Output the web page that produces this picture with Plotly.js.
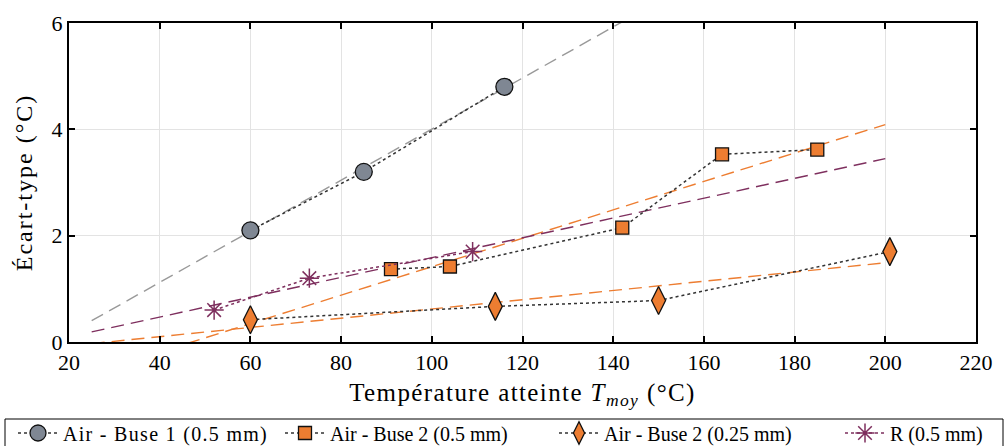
<!DOCTYPE html>
<html>
<head>
<meta charset="utf-8">
<script src="https://cdn.plot.ly/plotly-3.0.1.min.js"></script>
<style>
html,body{margin:0;padding:0;background:#fff;}
#chart{width:1005px;height:446px;}
.xtitle{letter-spacing:1.4px;}
.ytitle{letter-spacing:2px;}
.legendtext{letter-spacing:1.3px;}
</style>
</head>
<body>
<div id="chart"></div>
<script>
// Series data
const buse1X = [60, 85, 116];
const buse1Y = [2.1, 3.2, 4.8];
const buse2X = [91, 104, 142, 164, 185];
const buse2Y = [1.37, 1.42, 2.15, 3.53, 3.62];
const buse2smallX = [60, 114, 150, 201];
const buse2smallY = [0.42, 0.67, 0.78, 1.7];
const rX = [52, 73, 109];
const rY = [0.6, 1.2, 1.7];
// Linear-fit endpoints
const fitBuse1X = [25, 200];
const fitBuse1Y = [0.40, 8.81];
const fitBuse2X = [25, 200];
const fitBuse2Y = [-0.59, 4.09];
const fitBuse2smallX = [25, 200];
const fitBuse2smallY = [-0.03, 1.49];
const fitRX = [25, 200];
const fitRY = [0.19, 3.45];
// Labels
const seriesNames = ['Air - Buse 1 (0.5 mm)', 'Air - Buse 2 (0.5 mm)', 'Air - Buse 2 (0.25 mm)', 'R (0.5 mm)'];
const xTicks = [20, 40, 60, 80, 100, 120, 140, 160, 180, 200, 220];
const yTicks = [0, 2, 4, 6];

const GREY = '#7f8793', ORANGE = '#ed7d31', PURPLE = '#7e2f5e';
const dashStyle = '13px,7px';

function fit(x, y, color) {
  return {x: x, y: y, mode: 'lines', type: 'scatter', showlegend: false, hoverinfo: 'skip',
    line: {color: color, width: 1.4, dash: dashStyle}};
}

const traces = [
  fit(fitBuse1X, fitBuse1Y, '#999999'),
  fit(fitBuse2X, fitBuse2Y, ORANGE),
  fit(fitBuse2smallX, fitBuse2smallY, ORANGE),
  fit(fitRX, fitRY, PURPLE),
  {x: buse1X, y: buse1Y, name: seriesNames[0], type: 'scatter', mode: 'lines+markers', legend: 'legend',
    line: {color: '#333333', width: 1.5, dash: 'dot'},
    marker: {symbol: 'circle', size: 17, color: GREY, line: {color: '#111', width: 1.3}}},
  {x: buse2X, y: buse2Y, name: seriesNames[1], type: 'scatter', mode: 'lines+markers', legend: 'legend2',
    line: {color: '#333333', width: 1.5, dash: 'dot'},
    marker: {symbol: 'square', size: 13, color: ORANGE, line: {color: '#111', width: 1.3}}},
  {x: buse2smallX, y: buse2smallY, name: seriesNames[2], type: 'scatter', mode: 'lines+markers', legend: 'legend3',
    line: {color: '#333333', width: 1.5, dash: 'dot'},
    marker: {symbol: 'diamond-tall', size: 20, color: ORANGE, line: {color: '#111', width: 1.3}}},
  {x: rX, y: rY, name: seriesNames[3], type: 'scatter', mode: 'lines+markers', legend: 'legend4',
    line: {color: PURPLE, width: 1.5, dash: 'dot'},
    marker: {symbol: 'asterisk-open', size: 16, color: PURPLE, line: {color: PURPLE, width: 1.5}}}
];

const FONT = 'Liberation Serif, DejaVu Serif, serif';
const axisCommon = {
  showline: true, linecolor: '#000', linewidth: 2, mirror: 'ticks',
  ticks: 'inside', ticklen: 6, tickwidth: 2, tickcolor: '#000',
  showgrid: true, gridcolor: '#e3e3e3', gridwidth: 1, zeroline: false,
  tickfont: {family: FONT, size: 22, color: '#000'}
};

function leg(xpx) {
  return {
    orientation: 'h', xref: 'container', yref: 'container',
    x: xpx / 1005, xanchor: 'left', y: 1 - 433 / 446, yanchor: 'middle',
    borderwidth: 0, bgcolor: 'rgba(0,0,0,0)',
    font: {family: FONT, size: 20, color: '#000'},
    itemwidth: 40, tracegroupgap: 0
  };
}

const layout = {
  width: 1005, height: 446,
  margin: {l: 69, r: 29, t: 23, b: 104},
  paper_bgcolor: '#fff', plot_bgcolor: '#fff',
  font: {family: FONT, color: '#000'},
  xaxis: Object.assign({}, axisCommon, {
    range: [20, 220], tickvals: xTicks, ticktext: xTicks.map(String),
    title: {text: 'Température atteinte <i>T</i><sub><i>moy</i></sub> (°C)', font: {family: FONT, size: 25}, standoff: 9}
  }),
  yaxis: Object.assign({}, axisCommon, {
    range: [0, 6], tickvals: yTicks, ticktext: yTicks.map(String),
    title: {text: 'Écart-type (°C)', font: {family: FONT, size: 24}, standoff: 12}
  }),
  showlegend: true,
  legend: leg(13),
  legend2: leg(280),
  legend3: leg(554),
  legend4: leg(840),
  shapes: [{
    type: 'rect', xref: 'paper', yref: 'paper', layer: 'above',
    x0: (5 - 69) / 907, x1: (1003 - 69) / 907,
    y0: (342 - 419) / 319, y1: (342 - 452) / 319,
    line: {color: '#000', width: 1}, fillcolor: 'rgba(0,0,0,0)'
  }]
};

Plotly.newPlot('chart', traces, layout, {displayModeBar: false, staticPlot: true});
</script>
</body>
</html>
